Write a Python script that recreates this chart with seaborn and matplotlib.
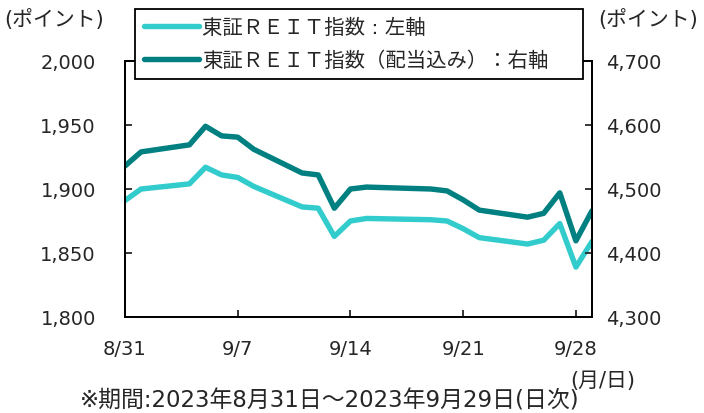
import pandas as pd
import seaborn as sns
import matplotlib.pyplot as plt

# データ
dates = ['2023-08-31', '2023-09-01', '2023-09-04', '2023-09-05', '2023-09-06',
         '2023-09-07', '2023-09-08', '2023-09-11', '2023-09-12', '2023-09-13',
         '2023-09-14', '2023-09-15', '2023-09-19', '2023-09-20', '2023-09-21',
         '2023-09-22', '2023-09-25', '2023-09-26', '2023-09-27', '2023-09-28',
         '2023-09-29']
reit = [1891, 1900, 1904, 1917, 1911, 1909, 1902, 1886, 1885, 1863,
        1875, 1877, 1876, 1875, 1869, 1862, 1857, 1860, 1873, 1839, 1859]
reit_div = [4536, 4558, 4569, 4598, 4583, 4581, 4562, 4525, 4522, 4470,
            4500, 4503, 4500, 4497, 4483, 4467, 4456, 4462, 4494, 4419, 4466]
tick_dates = ['2023-08-31', '2023-09-07', '2023-09-14', '2023-09-21', '2023-09-28']
tick_labels = ['8/31', '9/7', '9/14', '9/21', '9/28']

label1 = '東証ＲＥＩＴ指数 : 左軸'
label2 = '東証ＲＥＩＴ指数（配当込み）：右軸'

df = pd.DataFrame({'date': pd.to_datetime(dates), 'reit': reit, 'reit_div': reit_div})

sns.set_style('white')
plt.rcParams['font.family'] = ['DejaVu Sans', 'Noto Sans CJK JP']

fig = plt.figure(figsize=(7.04, 4.14), dpi=100)
ax = fig.add_axes([125 / 704, 1 - 318 / 414, 467 / 704, 256 / 414])
ax2 = ax.twinx()

sns.lineplot(data=df, x='date', y='reit', ax=ax, color='#33CCCC', lw=3.9, label=label1, legend=False)
sns.lineplot(data=df, x='date', y='reit_div', ax=ax2, color='#008080', lw=3.9, label=label2, legend=False)

ax.set_xlim(pd.Timestamp('2023-08-31'), pd.Timestamp('2023-09-29'))
ax.set_ylim(1800, 2000)
ax2.set_ylim(4300, 4700)
ax.set_yticks([1800, 1850, 1900, 1950, 2000])
ax2.set_yticks([4300, 4400, 4500, 4600, 4700])
ax.set_yticklabels(['1,800', '1,850', '1,900', '1,950', '2,000'])
ax2.set_yticklabels(['4,300', '4,400', '4,500', '4,600', '4,700'])
ax.set_xticks(pd.to_datetime(tick_dates))
ax.set_xticklabels(tick_labels)
ax.set_xlabel('')
ax.set_ylabel('')
ax2.set_ylabel('')

for a in (ax, ax2):
    for s in a.spines.values():
        s.set_color('black')
        s.set_linewidth(1.3)
ax.tick_params(axis='y', direction='in', length=5, width=1.3, pad=21, labelsize=14, left=True)
ax.tick_params(axis='x', direction='in', length=5, width=1.3, pad=16, labelsize=14, bottom=True)
ax2.tick_params(axis='y', direction='in', length=5, width=1.3, pad=10, labelsize=14, right=True)

h1, l1 = ax.get_legend_handles_labels()
h2, l2 = ax2.get_legend_handles_labels()
leg = ax2.legend(h1 + h2, l1 + l2, loc='lower left', bbox_to_anchor=(0.021, 0.93, 0.96, 0.273),
                 mode='expand', borderaxespad=0, fontsize=14.7, frameon=True, fancybox=False,
                 edgecolor='black', handlelength=2.7, handletextpad=0.15,
                 labelspacing=0.65, borderpad=0.45)
leg.get_frame().set_linewidth(1.3)
leg.get_frame().set_alpha(1)

fig.text(4 / 704, 1 - 20 / 414, '(ポイント)', fontsize=15, va='center', ha='left')
fig.text(598 / 704, 1 - 20 / 414, '(ポイント)', fontsize=15, va='center', ha='left')
fig.text(570 / 704, 1 - 381 / 414, '(月/日)', fontsize=15, va='center', ha='left')
fig.text(80 / 704, 1 - 401 / 414, '※期間:2023年8月31日～2023年9月29日(日次)',
         fontsize=16.5, va='center', ha='left')

fig.savefig('out.png', dpi=100)
